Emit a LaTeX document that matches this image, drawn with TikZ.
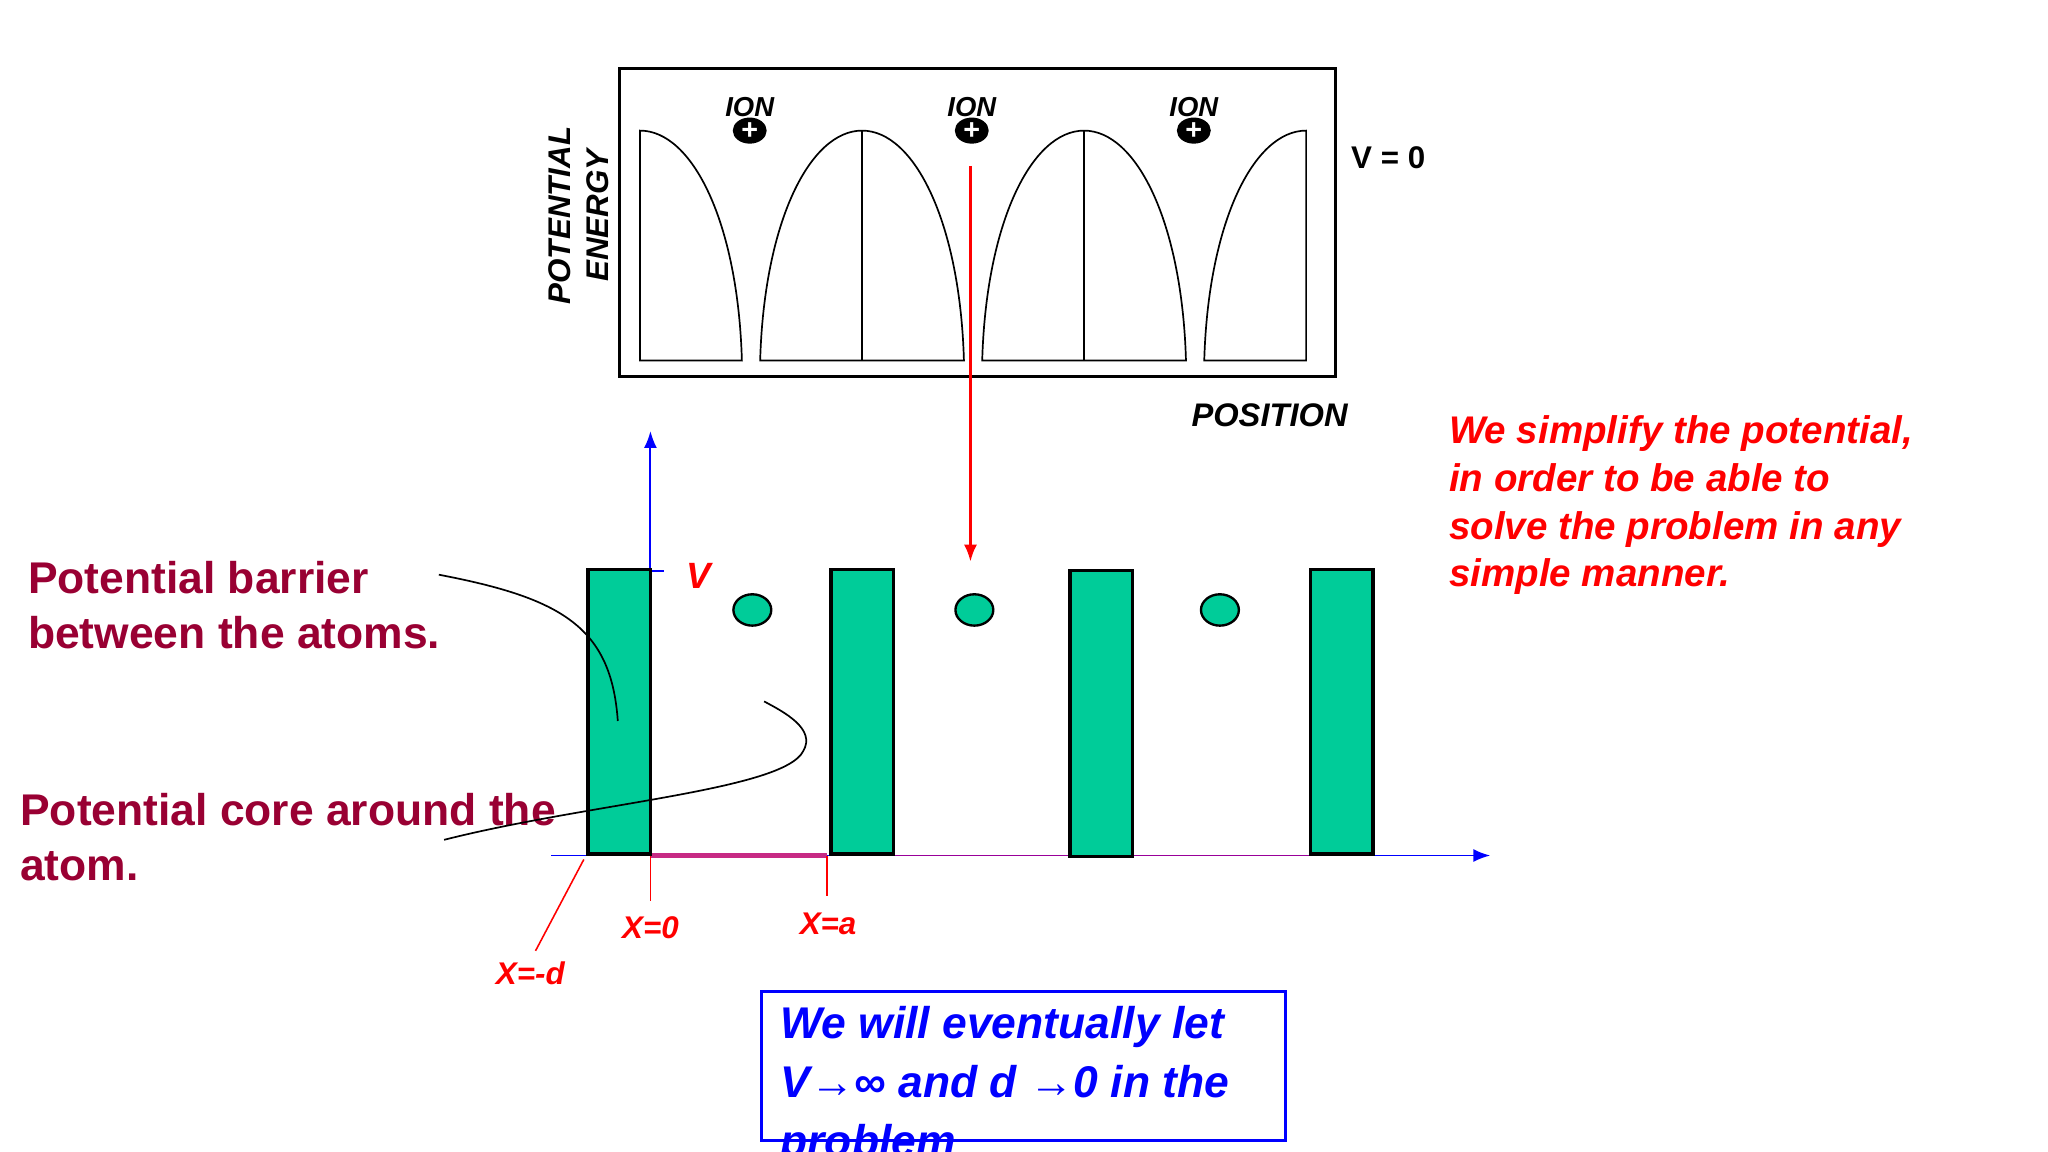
\documentclass[tikz,border=0pt]{standalone}
\usepackage{fontspec}
\setmainfont{Liberation Sans}
\usetikzlibrary{shapes.geometric,arrows.meta}
\begin{document}
\begin{tikzpicture}[x=1pt,y=-1pt,
  bar/.style={draw=black,line width=2.5pt,fill=barg},
  dome/.style={draw=black,line width=1.3pt},
  ion/.style={circle,fill=black,minimum size=24pt,inner sep=0pt,text=white,font=\bfseries\fontsize{22}{22}\selectfont},
  lbl/.style={font=\bfseries\itshape\fontsize{22}{22}\selectfont},
  big/.style={font=\bfseries\fontsize{34}{42}\selectfont,text=dred,align=left,anchor=west},
  redtxt/.style={font=\bfseries\itshape\fontsize{29.5}{36.5}\selectfont,text=red,align=left,anchor=north west},
  tip/.style={-{Latex[length=13pt,width=10pt]}},
  elec/.style={ellipse,draw=black,line width=1.8pt,fill=barg,minimum width=29pt,minimum height=24pt}]
\definecolor{barg}{HTML}{00CC99}
\definecolor{dred}{HTML}{990033}
\useasboundingbox (0,0) rectangle (1568,882);
\fill[white] (0,0) rectangle (1568,882);
% top panel
\node[draw=black,line width=2.5pt,minimum width=548pt,minimum height=236pt,anchor=north west,inner sep=0pt] (panel) at (473,51) {};
\draw[dome] (490,276) -- (490,100) .. controls (530,100) and (565,170) .. (568,276) -- cycle;
\draw[dome] (582,276) .. controls (585,170) and (620,100) .. (660,100) .. controls (700,100) and (735,170) .. (738,276) -- cycle;
\draw[dome] (660,100) -- (660,276);
\draw[dome] (752,276) .. controls (755,170) and (790,100) .. (830,100) .. controls (870,100) and (905,170) .. (908,276) -- cycle;
\draw[dome] (830,100) -- (830,276);
\draw[dome] (1000,276) -- (1000,100) .. controls (960,100) and (925,170) .. (922,276) -- cycle;
\foreach \x/\n in {574/a,744/b,914/c}{
  \node[ion,ellipse,minimum width=26pt,minimum height=20pt] (ion\n) at (\x,100) {+};
  \node[lbl,font=\bfseries\itshape\fontsize{21}{21}\selectfont] (ionl\n) at (\x,82) {ION};
}
\node[font=\bfseries\fontsize{24}{24}\selectfont,anchor=west] (v0) at (1031,121) {V = 0};
\node[lbl,rotate=90,align=center,font=\bfseries\itshape\fontsize{24}{29}\selectfont] (pe) at (443,165) {POTENTIAL\\ENERGY};
\node[lbl,font=\bfseries\itshape\fontsize{25}{25}\selectfont] (pos) at (972,318) {POSITION};
\coordinate (ra) at (743,127);
\coordinate (rb) at (743,430);
\draw[red,line width=2pt,tip] (ra) -- (rb);
% lower axes
\coordinate (o) at (498,655);
\coordinate (yt) at (498,330);
\coordinate (xl) at (422,655);
\coordinate (xr) at (1141,655);
\draw[blue,line width=1.5pt,tip] (o) -- (yt);
\draw[blue,line width=1.5pt,tip] (xl) -- (xr);
\draw[magenta!80!black,line width=3.5pt] (498,655) -- (633,655);
\draw[violet!80!magenta,line width=1.5pt] (683,655) -- (1002,655);
\draw[blue,line width=1.5pt] (498,437) -- (508,437);
\node[bar,minimum width=48pt,minimum height=218pt,inner sep=0pt,anchor=south west] (b1) at (449,655) {};
\node[bar,minimum width=48pt,minimum height=218pt,inner sep=0pt,anchor=south west] (b2) at (635,655) {};
\node[bar,minimum width=48pt,minimum height=219pt,inner sep=0pt,anchor=south west] (b3) at (818,657) {};
\node[bar,minimum width=48pt,minimum height=218pt,inner sep=0pt,anchor=south west] (b4) at (1002,655) {};
\node[lbl,text=red,font=\bfseries\itshape\fontsize{28}{28}\selectfont] (V) at (535,441) {V};
\node[elec] (e1) at (576,467) {};
\node[elec] (e2) at (746,467) {};
\node[elec] (e3) at (934,467) {};
% ticks
\draw[red,line width=1.2pt] (498,655) -- (498,690);
\draw[red,line width=1.2pt] (633,655) -- (633,686);
\draw[red,line width=1.2pt] (447,658) -- (410,728);
\node[lbl,text=red,font=\bfseries\itshape\fontsize{24}{24}\selectfont] (x0) at (498,710) {X=0};
\node[lbl,text=red,font=\bfseries\itshape\fontsize{24}{24}\selectfont] (xa) at (634,707) {X=a};
\node[lbl,text=red,font=\bfseries\itshape\fontsize{24}{24}\selectfont] (xd) at (406,745) {X=-d};
% left texts
\node[big] (t1) at (18,463) {Potential barrier\\between the atoms.};
\node[big] (t2) at (12,641) {Potential core around the\\atom.};
\draw[black,line width=1.3pt] (336,440) .. controls (430,458) and (468,480) .. (473,552);
\draw[black,line width=1.3pt] (340,643) .. controls (450,615) and (600,605) .. (615,575) .. controls (625,558) and (600,545) .. (585,537);
% right red text
\node[redtxt] (rt) at (1106,315) {We simplify the potential,\\in order to be able to\\solve the problem in any\\simple manner.};
% blue box
\node[draw=blue,line width=2.5pt,minimum width=401pt,minimum height=114pt,anchor=north west,inner sep=0pt] (bb) at (582,758) {};
\node[anchor=north west,align=left,text=blue,font=\bfseries\itshape\fontsize{34}{45}\selectfont] (bt) at (594,767) {We will eventually let\\V→∞ and d →0 in the\\problem};
\end{tikzpicture}
\end{document}
